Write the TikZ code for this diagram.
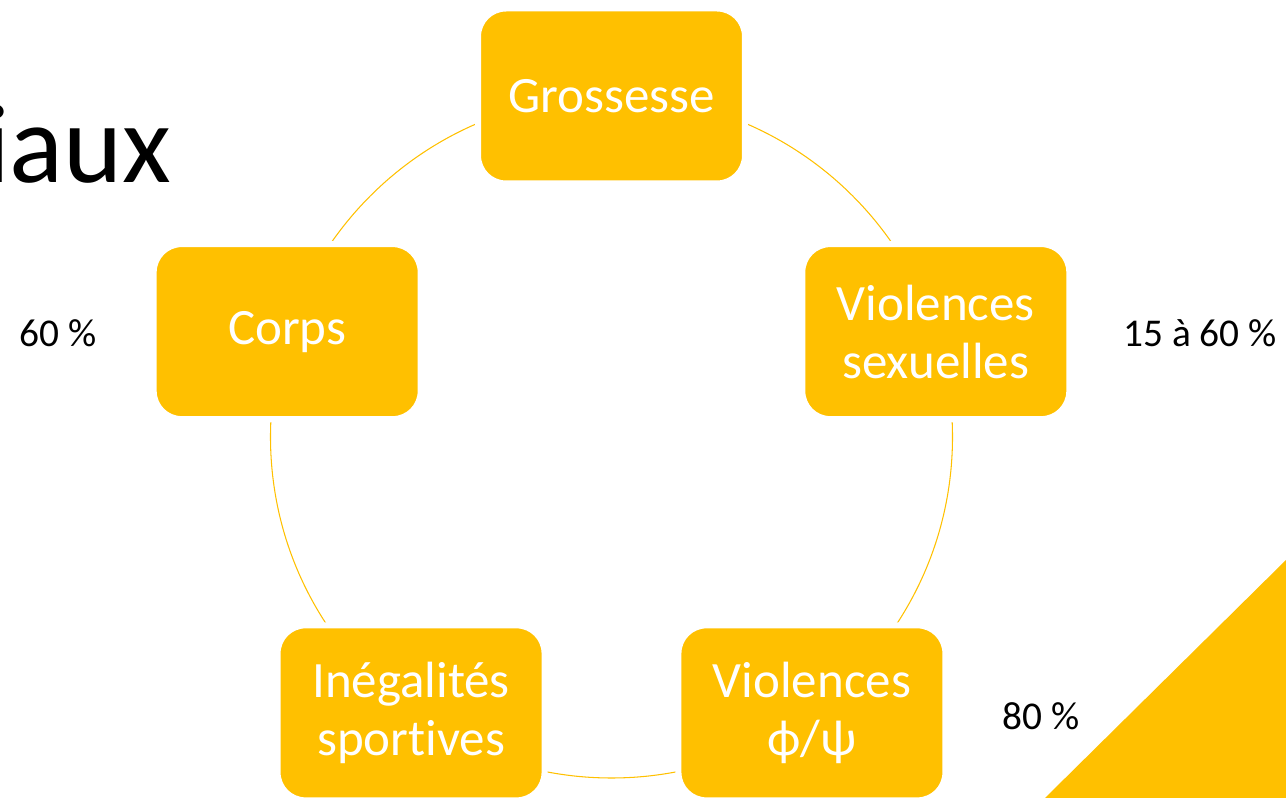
\documentclass[tikz,border=0pt]{standalone}
\usepackage{fontspec}
\setmainfont[Ligatures=NoCommon]{Carlito}
\usepackage{tikz}
\usetikzlibrary{calc}
\definecolor{ppgold}{RGB}{255,192,0}
\tikzstyle{box} = [rectangle, rounded corners=0.56cm, fill=ppgold, draw=white, line width=3.4pt,
  minimum width=5.34cm, minimum height=3.5cm, align=center, text=white,
  font=\fontsize{29}{33}\selectfont]
\tikzstyle{ring} = [ppgold, line width=0.6pt]
\tikzstyle{pct} = [font=\fontsize{22.4}{27}\selectfont]

\begin{document}
\begin{tikzpicture}[x=0.02cm, y=0.02cm]
\useasboundingbox (0,0) rectangle (1286,798);
% corner triangle
\fill[ppgold] (1045,0) -- (1286,0) -- (1286,238) -- cycle;
% title fragment
\node[anchor=base east, inner sep=0, font=\fontsize{64}{64}\selectfont] (ttl) at (172,615) {iaux};

% cycle ring
\coordinate (ctr) at (611.5,361);
\draw[ring] (ctr) circle[radius=341];

% factors
\node[box] (gross) at ($(ctr)+(90:341)$) {Grossesse};
\node[box] (vsex) at ($(ctr)+(18:341)$) {Violences\\sexuelles};
\node[box] (vphi) at ($(ctr)+(-54:341)$) {Violences\\ϕ/ψ};
\node[box] (ineg) at ($(ctr)+(234:341)$) {Inégalités\\sportives};
\node[box] (corps) at ($(ctr)+(162:341)$) {Corps};

% rates
\node[pct] (pcorps) at (58,465) {60 \%};
\node[pct] (pvsex) at (1200,465) {15 à 60 \%};
\node[pct] (pvphi) at (1041,82) {80 \%};
\end{tikzpicture}
\end{document}
